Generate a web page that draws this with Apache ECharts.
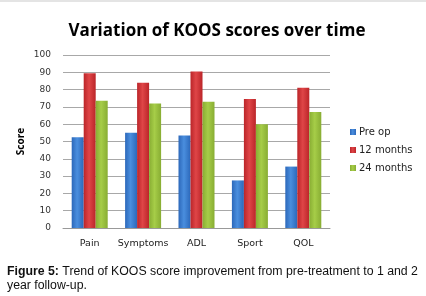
<!DOCTYPE html>
<html>
<head>
<meta charset="utf-8">
<script src="https://cdn.jsdelivr.net/npm/echarts@6/dist/echarts.min.js"></script>
<style>
  html, body { margin: 0; padding: 0; background: #fff; }
  #chart { width: 426px; height: 296px; }
</style>
</head>
<body>
<div id="chart"></div>
<script>
// categories and values
var categories = ['Pain', 'Symptoms', 'ADL', 'Sport', 'QOL'];
var preOp = [52.5, 55, 53.5, 27.5, 35.5];
var months12 = [89.5, 84, 90.5, 74.5, 81];
var months24 = [73.5, 72, 73, 60, 67];
var seriesNames = ['Pre op', '12 months', '24 months'];

var chart = echarts.init(document.getElementById('chart'));

function barColor(dark, light) {
	// side-lit look like the old excel 3d bars
	return new echarts.graphic.LinearGradient(0, 0, 1, 0, [
		{ offset: 0, color: dark },
		{ offset: 0.45, color: light },
		{ offset: 1, color: dark }
	], false);
}

var colors = [
	barColor('#2c68ba', '#4a8ede'),
	barColor('#bb2529', '#df4547'),
	barColor('#88ad33', '#a6cd48')
];

var option = {
	animation: false,
	backgroundColor: '#fff',
	title: {
		text: 'Variation of KOOS scores over time',
		left: 212,
		top: 18,
		textAlign: 'center',
		textStyle: {
			fontFamily: 'Open Sans',
			fontWeight: 'bold',
			fontSize: 17,
			color: '#000'
		}
	},
	grid: {
		left: 63,
		right: 96,
		top: 55,
		bottom: 68,
		containLabel: false
	},
	legend: {
		orient: 'vertical',
		left: 345,
		top: 122,
		itemGap: 8,
		itemWidth: 6,
		itemHeight: 6,
		icon: 'rect',
		data: seriesNames,
		textStyle: {
			fontFamily: 'DejaVu Sans',
			fontSize: 10,
			color: '#222',
			padding: [0, 0, 0, -2]
		}
	},
	xAxis: {
		type: 'category',
		data: categories,
		axisLine: { lineStyle: { color: '#999' } },
		axisTick: { show: false },
		axisLabel: {
			interval: 0,
			fontFamily: 'DejaVu Sans',
			fontSize: 9.5,
			color: '#222',
			margin: 11
		}
	},
	yAxis: {
		type: 'value',
		min: 0,
		max: 100,
		interval: 10,
		name: 'Score',
		nameLocation: 'middle',
		nameGap: 37,
		nameMoveOverlap: false,
		nameTextStyle: {
			fontFamily: 'Open Sans',
			fontWeight: 'bold',
			fontSize: 10,
			color: '#000'
		},
		axisLine: { show: false },
		axisTick: { show: false },
		axisLabel: {
			fontFamily: 'DejaVu Sans',
			fontSize: 9,
			color: '#333',
			margin: 12
		},
		splitLine: { lineStyle: { color: '#a8a8a8', width: 1 } }
	},
	series: [{
		name: seriesNames[0],
		type: 'bar',
		data: preOp,
		barWidth: 12,
		barGap: '0%',
		itemStyle: { color: colors[0] }
	}, {
		name: seriesNames[1],
		type: 'bar',
		data: months12,
		barWidth: 12,
		barGap: '0%',
		itemStyle: { color: colors[1] }
	}, {
		name: seriesNames[2],
		type: 'bar',
		data: months24,
		barWidth: 12,
		barGap: '0%',
		itemStyle: { color: colors[2] }
	}],
	graphic: [{
		type: 'rect',
		left: 0,
		top: 0,
		shape: { width: 426, height: 2 },
		style: { fill: '#e4e4e4' }
	}, {
		type: 'text',
		left: 7,
		top: 265,
		style: {
			text: '{b|Figure 5:} Trend of KOOS score improvement from pre-treatment to 1 and 2\nyear follow-up.',
			fontFamily: 'Liberation Sans',
			fontSize: 12.3,
			lineHeight: 14,
			fill: '#111',
			rich: {
				b: { fontWeight: 'bold', fontFamily: 'Liberation Sans', fontSize: 12.3, fill: '#111' }
			}
		}
	}]
};

chart.setOption(option);
</script>
</body>
</html>
